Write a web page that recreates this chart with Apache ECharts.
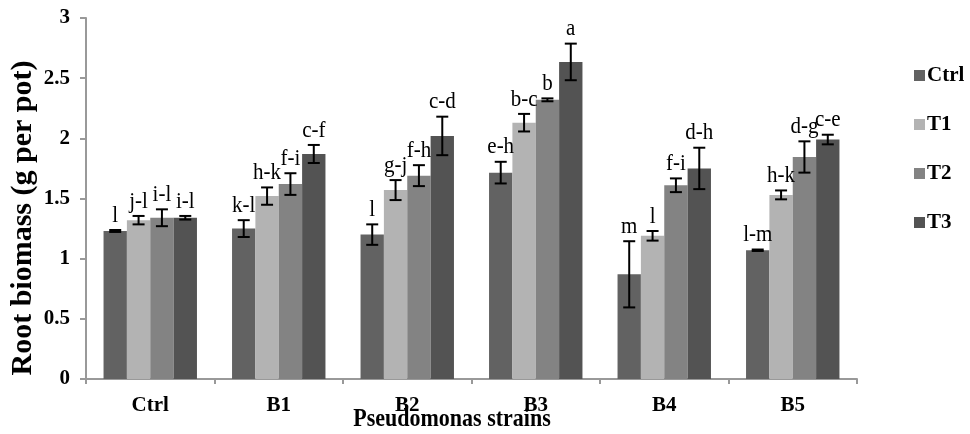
<!DOCTYPE html>
<html>
<head>
<meta charset="utf-8">
<script src="https://cdn.jsdelivr.net/npm/echarts@6/dist/echarts.min.js"></script>
<style>html,body{margin:0;padding:0;background:#fff;}#c{width:970px;height:434px;}</style>
</head>
<body>
<div id="c"></div>
<script>
var categories = ['Ctrl', 'B1', 'B2', 'B3', 'B4', 'B5'];
var seriesNames = ['Ctrl', 'T1', 'T2', 'T3'];
var yTicks = [0, 0.5, 1, 1.5, 2, 2.5, 3];

var ctrlValues = [1.23, 1.25, 1.20, 1.715, 0.87, 1.07];
var t1Values   = [1.32, 1.52, 1.57, 2.13, 1.19, 1.53];
var t2Values   = [1.34, 1.62, 1.69, 2.32, 1.61, 1.845];
var t3Values   = [1.34, 1.87, 2.02, 2.635, 1.75, 1.99];

var ctrlErrors = [0.008, 0.07, 0.085, 0.09, 0.275, 0.006];
var t1Errors   = [0.035, 0.072, 0.083, 0.073, 0.04, 0.037];
var t2Errors   = [0.07, 0.09, 0.087, 0.012, 0.057, 0.13];
var t3Errors   = [0.015, 0.075, 0.16, 0.152, 0.172, 0.04];

var ctrlLetters = ['l', 'k-l', 'l', 'e-h', 'm', 'l-m'];
var t1Letters   = ['j-l', 'h-k', 'g-j', 'b-c', 'l', 'h-k'];
var t2Letters   = ['i-l', 'f-i', 'f-h', 'b', 'f-i', 'd-g'];
var t3Letters   = ['i-l', 'c-f', 'c-d', 'a', 'd-h', 'c-e'];

var allValues = [ctrlValues, t1Values, t2Values, t3Values];
var allErrors = [ctrlErrors, t1Errors, t2Errors, t3Errors];
var allLetters = [ctrlLetters, t1Letters, t2Letters, t3Letters];
var colors = ['#626262', '#b3b3b3', '#838383', '#535353'];

var catGap = 0.273;
var serif = 'Liberation Serif';

var series = [];
seriesNames.forEach(function (name, si) {
  series.push({
    name: name,
    type: 'bar',
    data: allValues[si],
    barGap: '0%',
    barCategoryGap: (catGap * 100) + '%',
    itemStyle: { color: colors[si] },
    z: 2
  });
});
seriesNames.forEach(function (name, si) {
  var data = categories.map(function (c, ci) {
    return [ci, allValues[si][ci], allErrors[si][ci], allLetters[si][ci]];
  });
  series.push({
    name: name + '_err',
    type: 'custom',
    data: data,
    z: 5,
    encode: { x: 0, y: 1 },
    renderItem: function (params, api) {
      var ci = api.value(0);
      var v = api.value(1);
      var e = api.value(2);
      var lbl = data[params.dataIndex][3];
      var catW = api.size([1, 0])[0];
      var barW = catW * (1 - catGap) / 4;
      var center = api.coord([ci, 0])[0];
      var x = center - catW * (1 - catGap) / 2 + barW * (si + 0.5);
      var yTop = api.coord([ci, v + e])[1];
      var yBot = api.coord([ci, v - e])[1];
      var cap = 6;
      var st = { stroke: '#000', lineWidth: 2 };
      return {
        type: 'group',
        children: [
          { type: 'line', shape: { x1: x, y1: yTop, x2: x, y2: yBot }, style: st },
          { type: 'line', shape: { x1: x - cap, y1: yTop, x2: x + cap, y2: yTop }, style: st },
          { type: 'line', shape: { x1: x - cap, y1: yBot, x2: x + cap, y2: yBot }, style: st },
          { type: 'text', x: x, y: yTop - 3, scaleY: 1.08, style: { text: lbl, x: 0, y: 0, textAlign: 'center', textVerticalAlign: 'bottom', fontFamily: serif, fontSize: 21, fill: '#000' } }
        ]
      };
    }
  });
});

var chart = echarts.init(document.getElementById('c'));
chart.setOption({
  animation: false,
  backgroundColor: '#fff',
  grid: { left: 86, right: 113, top: 18, bottom: 55 },
  legend: {
    data: seriesNames,
    orient: 'vertical',
    left: 909,
    top: 60,
    itemWidth: 11,
    itemHeight: 11,
    itemGap: 28,
    icon: 'rect',
    textStyle: { fontFamily: serif, fontWeight: 'bold', fontSize: 21, color: '#000', padding: [0, 0, 0, -3] }
  },
  xAxis: {
    type: 'category',
    data: categories,
    axisLine: { lineStyle: { color: '#999', width: 2 } },
    axisTick: { show: true, length: 5, lineStyle: { color: '#999', width: 2 } },
    axisLabel: { fontFamily: serif, fontWeight: 'bold', fontSize: 21, color: '#000', margin: 16 }
  },
  yAxis: {
    type: 'value',
    min: yTicks[0],
    max: yTicks[yTicks.length - 1],
    interval: 0.5,
    axisLine: { show: true, lineStyle: { color: '#999', width: 2 } },
    axisTick: { show: true, length: 6, lineStyle: { color: '#999', width: 2 } },
    splitLine: { show: false },
    axisLabel: { fontFamily: serif, fontWeight: 'bold', fontSize: 21, color: '#000', margin: 16 }
  },
  graphic: [
    { type: 'text', x: 452, y: 420, scaleY: 1.1, style: { text: 'Pseudomonas strains', x: 0, y: 0, textAlign: 'center', textVerticalAlign: 'middle', fontFamily: serif, fontWeight: 'bold', fontSize: 22, fill: '#000' } },
    { type: 'text', rotation: Math.PI / 2, x: 23, y: 218, style: { text: 'Root biomass (g per pot)', x: 0, y: 0, textAlign: 'center', textVerticalAlign: 'middle', fontFamily: serif, fontWeight: 'bold', fontSize: 30, fill: '#000' } }
  ],
  series: series
});
</script>
</body>
</html>
